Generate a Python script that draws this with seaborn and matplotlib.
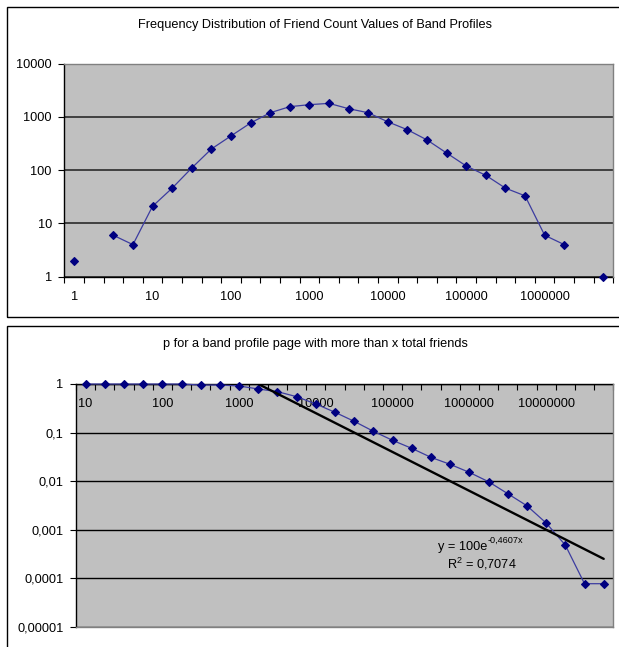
import numpy as np
import pandas as pd
import matplotlib
matplotlib.use("Agg")
import matplotlib.pyplot as plt
import seaborn as sns
from matplotlib.patches import Rectangle
from matplotlib.ticker import FixedLocator, NullLocator

# ---------------- data ----------------
bins = list(range(28))
freq = [2, np.nan, 6, 4, 21, 46, 110, 250, 440, 770, 1200, 1560, 1700, 1800,
        1430, 1200, 810, 575, 370, 210, 120, 80, 46, 33, 6, 4, np.nan, 1]
top_tick_pos = [0, 4, 8, 12, 16, 20, 24]
top_tick_labels = ["1", "10", "100", "1000", "10000", "100000", "1000000"]
top_y_ticks = [1, 10, 100, 1000, 10000]
top_y_labels = ["1", "10", "100", "1000", "10000"]

ccdf = [1, 1, 1, 1, 1, 1, 0.953, 0.953, 0.91, 0.789, 0.695, 0.548, 0.387,
        0.261, 0.170, 0.106, 0.069, 0.0472, 0.0308, 0.0221, 0.0151, 0.0097,
        0.0055, 0.0031, 0.00137, 0.00048, 0.0000769, 0.0000769]
bot_tick_pos = [0, 4, 8, 12, 16, 20, 24]
bot_tick_labels = ["10", "100", "1000", "10000", "100000", "1000000", "10000000"]
bot_y_ticks = [1e-5, 1e-4, 1e-3, 1e-2, 1e-1, 1]
bot_y_labels = ["0,00001", "0,0001", "0,001", "0,01", "0,1", "1"]

trend_a = 100.0
trend_b = -0.4607
trend_eq_main = "y = 100e"
trend_eq_sup = "-0,4607x"
trend_r2 = "R$^{\\mathregular{2}}$ = 0,7074"

title_top = "Frequency Distribution of Friend Count Values of Band Profiles"
title_bot = "p for a band profile page with more than x total friends"

# ---------------- style ----------------
sns.set_theme(style="white")
plt.rcParams["font.family"] = ["Liberation Sans", "Arial", "DejaVu Sans"]
plt.rcParams["mathtext.fontset"] = "custom"
plt.rcParams["mathtext.rm"] = "Liberation Sans"
FS = 9.2

W, H = 619, 647
fig = plt.figure(figsize=(W / 100, H / 100), dpi=100)
fig.patch.set_facecolor("white")

PLOT_BG = "#C0C0C0"
NAVY = "#000080"
LINE = "#3C3CA0"
BORDER_GRAY = "#808080"


def px_axes(x0, y0, x1, y1):
    return fig.add_axes([x0 / W, 1 - y1 / H, (x1 - x0) / W, (y1 - y0) / H])


# outer chart frames
fig.patches.append(Rectangle((7 / W, 1 - 317 / H), 640 / W, 310 / H,
                             transform=fig.transFigure, fill=False,
                             edgecolor="black", lw=1))
fig.patches.append(Rectangle((7 / W, 1 - 680 / H), 640 / W, 354 / H,
                             transform=fig.transFigure, fill=False,
                             edgecolor="black", lw=1))


def segments(values):
    seg, out, prev_nan = 0, [], False
    for v in values:
        if np.isnan(v):
            prev_nan = True
            out.append(np.nan)
        else:
            if prev_nan:
                seg += 1
            prev_nan = False
            out.append(seg)
    return out


MS = 3.9

# ---------------- top chart ----------------
ax1 = px_axes(64.3, 63.7, 613.3, 276.7)
ax1.set_facecolor(PLOT_BG)
df1 = pd.DataFrame({"bin": bins, "freq": freq, "seg": segments(freq)}).dropna()
sns.lineplot(data=df1, x="bin", y="freq", units="seg", estimator=None,
             sort=False, ax=ax1, color=LINE, lw=0.9, marker="D", markersize=MS,
             markerfacecolor=NAVY, markeredgecolor=NAVY, mew=0.8, zorder=6,
             clip_on=False)
ax1.set_yscale("log")
ax1.set_ylim(1, 10000)
ax1.set_xlim(-0.5, 27.5)
ax1.yaxis.set_major_locator(FixedLocator(top_y_ticks))
ax1.yaxis.set_minor_locator(NullLocator())
ax1.set_yticklabels(top_y_labels)
ax1.xaxis.set_major_locator(FixedLocator(top_tick_pos))
ax1.set_xticklabels(top_tick_labels)
ax1.xaxis.set_minor_locator(FixedLocator(np.arange(-0.5, 28, 1)))
ax1.tick_params(axis="x", which="major", bottom=True, length=0, pad=10,
                labelsize=FS, colors="black")
ax1.tick_params(axis="x", which="minor", bottom=True, length=4, width=0.8,
                direction="out", color="black")
ax1.tick_params(axis="y", which="major", left=True, length=4, width=0.8,
                direction="out", pad=5, labelsize=FS, colors="black")
ax1.set_axisbelow(True)
ax1.grid(axis="y", which="major", color="#404040", lw=1.4)
ax1.grid(axis="x", visible=False)
ax1.set_xlabel("")
ax1.set_ylabel("")
for s in ["left", "bottom"]:
    ax1.spines[s].set_color("black")
    ax1.spines[s].set_linewidth(1)
for s in ["top", "right"]:
    ax1.spines[s].set_color(BORDER_GRAY)
    ax1.spines[s].set_linewidth(1)
    ax1.spines[s].set_zorder(5)

fig.text(315 / W, 1 - 25 / H, title_top, ha="center", va="center",
         fontsize=FS, color="black")

# ---------------- bottom chart ----------------
ax2 = px_axes(76, 384, 613.3, 626.7)
ax2.set_facecolor(PLOT_BG)
df2 = pd.DataFrame({"bin": bins, "p": ccdf})
sns.lineplot(data=df2, x="bin", y="p", estimator=None, sort=False, ax=ax2,
             color=LINE, lw=0.9, marker="D", markersize=MS,
             markerfacecolor=NAVY, markeredgecolor=NAVY, mew=0.8, zorder=6,
             clip_on=False)
trend_x = np.array(bins) + 1
df_tr = pd.DataFrame({"bin": bins, "fit": trend_a * np.exp(trend_b * trend_x)})
sns.lineplot(data=df_tr, x="bin", y="fit", estimator=None, sort=False, ax=ax2,
             color="black", lw=1.7, zorder=7)
ax2.set_yscale("log")
ax2.set_ylim(1e-5, 1)
ax2.set_xlim(-0.5, 27.5)
ax2.yaxis.set_major_locator(FixedLocator(bot_y_ticks))
ax2.yaxis.set_minor_locator(NullLocator())
ax2.set_yticklabels(bot_y_labels)
ax2.xaxis.set_major_locator(FixedLocator(bot_tick_pos))
ax2.set_xticklabels(bot_tick_labels)
ax2.xaxis.set_minor_locator(FixedLocator(np.arange(-0.5, 28, 1)))
ax2.tick_params(axis="x", which="both", bottom=False, labelbottom=False,
                top=True, labeltop=True)
ax2.tick_params(axis="x", which="major", length=0, pad=-19, labelsize=FS,
                colors="black")
ax2.tick_params(axis="x", which="minor", length=4, width=0.8,
                direction="in", color="black")
ax2.tick_params(axis="y", which="major", left=True, length=4, width=0.8,
                direction="out", pad=5, labelsize=FS, colors="black")
ax2.set_axisbelow(True)
ax2.grid(axis="y", which="major", color="black", lw=1)
ax2.grid(axis="x", visible=False)
ax2.set_xlabel("")
ax2.set_ylabel("")
for s in ["left", "top"]:
    ax2.spines[s].set_color("black")
    ax2.spines[s].set_linewidth(1)
for s in ["right", "bottom"]:
    ax2.spines[s].set_color(BORDER_GRAY)
    ax2.spines[s].set_linewidth(1)
    ax2.spines[s].set_zorder(5)

fig.text(315 / W, 1 - 344 / H, title_bot, ha="center", va="center",
         fontsize=FS, color="black")
eq = fig.text(438 / W, 1 - 547 / H, trend_eq_main, ha="left", va="center",
              fontsize=FS, color="black")
ax2.annotate(trend_eq_sup, xy=(1, 0.7), xycoords=eq, ha="left",
             va="bottom", fontsize=FS * 0.72, color="black",
             annotation_clip=False)
fig.text(482 / W, 1 - 564 / H, trend_r2, ha="center", va="center",
         fontsize=FS, color="black")

fig.savefig("out.png", dpi=100, facecolor="white")
